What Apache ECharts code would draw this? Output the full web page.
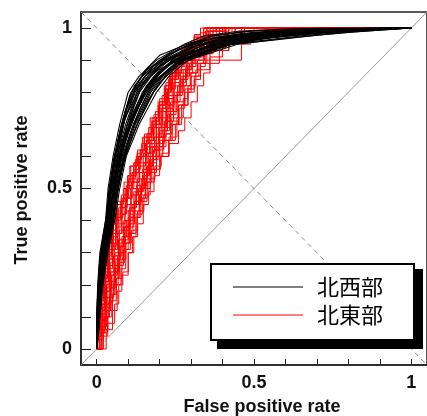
<!DOCTYPE html>
<html><head><meta charset="utf-8">
<script src="https://cdn.jsdelivr.net/npm/echarts@6.0.0/dist/echarts.min.js"></script>
<style>html,body{margin:0;padding:0;background:#fff;}#c{width:427px;height:416px;}</style>
</head><body><div id="c"></div>
<script>
const categories = ['北西部', '北東部'];
const seriesColors = ['#000000', '#ff0000'];
const tickValues = [0, 0.1, 0.2, 0.3, 0.4, 0.5, 0.6, 0.7, 0.8, 0.9, 1];
const labelValues = [0, 0.5, 1];
const xTitle = 'False positive rate';
const yTitle = 'True positive rate';
const diagonal = [[-0.05, -0.05], [1.05, 1.05]];
const antiDiagonal = [[-0.05, 1.05], [1.05, -0.05]];

const blackCurves = [
  [[0,0],[0,0.1],[0.003,0.2],[0.01,0.3],[0.028,0.4],[0.036,0.5],[0.052,0.6],[0.073,0.7],[0.1,0.8],[0.135,0.85],[0.19,0.9],[0.28,0.95],[0.34,0.975],[0.45,0.99],[0.6,0.997],[1,1]],
  [[0,0],[0.001,0.1],[0.005,0.2],[0.013,0.3],[0.031,0.4],[0.04,0.5],[0.056,0.6],[0.079,0.7],[0.109,0.8],[0.145,0.85],[0.2,0.9],[0.297,0.95],[0.36,0.975],[0.48,0.99],[0.65,0.996],[1,1]],
  [[0,0],[0.002,0.1],[0.006,0.2],[0.015,0.3],[0.035,0.4],[0.043,0.5],[0.06,0.6],[0.085,0.7],[0.118,0.8],[0.154,0.85],[0.21,0.9],[0.314,0.95],[0.38,0.972],[0.5,0.987],[0.68,0.995],[1,1]],
  [[0,0],[0.003,0.1],[0.008,0.2],[0.018,0.3],[0.038,0.4],[0.047,0.5],[0.065,0.6],[0.092,0.7],[0.127,0.8],[0.164,0.85],[0.22,0.9],[0.33,0.95],[0.4,0.97],[0.52,0.985],[0.7,0.994],[1,1]],
  [[0,0],[0.004,0.1],[0.01,0.2],[0.02,0.3],[0.041,0.4],[0.051,0.5],[0.069,0.6],[0.098,0.7],[0.136,0.8],[0.173,0.85],[0.23,0.9],[0.348,0.95],[0.43,0.968],[0.55,0.983],[0.72,0.993],[1,1]],
  [[0,0],[0.005,0.1],[0.012,0.2],[0.023,0.3],[0.044,0.4],[0.055,0.5],[0.073,0.6],[0.104,0.7],[0.145,0.8],[0.183,0.85],[0.24,0.9],[0.365,0.95],[0.45,0.966],[0.57,0.981],[0.74,0.992],[1,1]],
  [[0,0],[0.006,0.1],[0.013,0.2],[0.026,0.3],[0.046,0.4],[0.058,0.5],[0.077,0.6],[0.11,0.7],[0.154,0.8],[0.192,0.85],[0.25,0.9],[0.38,0.95],[0.47,0.965],[0.6,0.98],[0.76,0.991],[1,1]],
  [[0,0],[0.007,0.1],[0.015,0.2],[0.028,0.3],[0.049,0.4],[0.062,0.5],[0.081,0.6],[0.116,0.7],[0.163,0.8],[0.202,0.85],[0.26,0.9],[0.4,0.95],[0.5,0.964],[0.63,0.979],[0.78,0.99],[1,1]],
  [[0,0],[0.008,0.1],[0.016,0.2],[0.031,0.3],[0.052,0.4],[0.066,0.5],[0.086,0.6],[0.123,0.7],[0.172,0.8],[0.211,0.85],[0.27,0.9],[0.416,0.95],[0.53,0.962],[0.66,0.977],[0.8,0.989],[1,1]],
  [[0,0],[0.009,0.1],[0.018,0.2],[0.033,0.3],[0.054,0.4],[0.069,0.5],[0.09,0.6],[0.129,0.7],[0.181,0.8],[0.22,0.85],[0.28,0.9],[0.433,0.95],[0.56,0.962],[0.7,0.978],[0.82,0.988],[1,1]],
  [[0,0],[0.01,0.1],[0.02,0.2],[0.036,0.3],[0.057,0.4],[0.073,0.5],[0.094,0.6],[0.135,0.7],[0.19,0.8],[0.23,0.85],[0.29,0.9],[0.45,0.95],[0.6,0.968],[0.8,0.987],[1,1]],
  [[0,0],[0.002,0.12],[0.012,0.22],[0.02,0.33],[0.033,0.38],[0.05,0.52],[0.062,0.58],[0.09,0.72],[0.12,0.78],[0.15,0.83],[0.2,0.88],[0.3,0.94],[0.42,0.97],[0.58,0.985],[1,1]],
  [[0,0],[0.006,0.09],[0.008,0.18],[0.025,0.32],[0.045,0.43],[0.05,0.48],[0.08,0.63],[0.1,0.68],[0.14,0.77],[0.16,0.82],[0.25,0.91],[0.36,0.955],[0.5,0.975],[0.7,0.99],[1,1]],
  [[0,0],[0.004,0.15],[0.01,0.25],[0.03,0.36],[0.04,0.46],[0.06,0.55],[0.07,0.62],[0.1,0.69],[0.13,0.81],[0.17,0.86],[0.23,0.905],[0.32,0.945],[0.44,0.972],[0.62,0.99],[1,1]],
  [[0,0],[0.008,0.12],[0.014,0.24],[0.022,0.28],[0.04,0.42],[0.064,0.53],[0.085,0.65],[0.118,0.73],[0.15,0.79],[0.19,0.84],[0.26,0.895],[0.4,0.945],[0.55,0.97],[0.75,0.988],[1,1]],
  [[0,0],[0.003,0.14],[0.009,0.23],[0.022,0.35],[0.036,0.44],[0.054,0.56],[0.075,0.66],[0.095,0.75],[0.13,0.83],[0.155,0.87],[0.2,0.915],[0.3,0.955],[0.45,0.98],[0.65,0.993],[1,1]],
  [[0,0],[0.001,0.13],[0.007,0.24],[0.016,0.31],[0.033,0.41],[0.045,0.51],[0.062,0.61],[0.088,0.71],[0.122,0.8],[0.158,0.855],[0.215,0.9],[0.32,0.948],[0.42,0.972],[0.56,0.988],[0.8,0.998],[1,1]],
  [[0,0],[0.004,0.11],[0.011,0.21],[0.024,0.31],[0.043,0.4],[0.057,0.5],[0.075,0.6],[0.107,0.7],[0.15,0.8],[0.187,0.85],[0.245,0.9],[0.37,0.95],[0.48,0.97],[0.65,0.988],[0.85,0.998],[1,1]],
  [[0,0],[0.007,0.11],[0.017,0.22],[0.03,0.32],[0.05,0.41],[0.064,0.5],[0.084,0.6],[0.12,0.7],[0.168,0.8],[0.206,0.85],[0.265,0.9],[0.41,0.95],[0.52,0.968],[0.7,0.985],[0.9,0.998],[1,1]],
  [[0,0],[0.002,0.09],[0.005,0.19],[0.012,0.29],[0.029,0.39],[0.038,0.49],[0.054,0.59],[0.076,0.69],[0.105,0.79],[0.14,0.845],[0.195,0.895],[0.29,0.948],[0.37,0.975],[0.5,0.992],[0.7,0.999],[1,1]],
  [[0,0],[0.005,0.12],[0.013,0.23],[0.027,0.34],[0.047,0.42],[0.06,0.52],[0.08,0.62],[0.113,0.71],[0.158,0.81],[0.197,0.86],[0.255,0.905],[0.39,0.952],[0.49,0.97],[0.64,0.986],[0.82,0.996],[1,1]],
  [[0,0],[0.009,0.12],[0.019,0.21],[0.035,0.33],[0.055,0.42],[0.071,0.52],[0.092,0.61],[0.132,0.71],[0.185,0.81],[0.225,0.86],[0.285,0.905],[0.44,0.955],[0.58,0.972],[0.76,0.99],[1,1]],
  [[0,0],[0.003,0.08],[0.009,0.17],[0.02,0.27],[0.037,0.37],[0.049,0.47],[0.067,0.57],[0.095,0.67],[0.132,0.77],[0.17,0.83],[0.225,0.885],[0.34,0.94],[0.44,0.968],[0.6,0.987],[0.85,0.999],[1,1]],
  [[0,0],[0.006,0.08],[0.014,0.18],[0.029,0.28],[0.048,0.38],[0.06,0.46],[0.079,0.56],[0.112,0.66],[0.16,0.77],[0.2,0.83],[0.26,0.885],[0.39,0.94],[0.5,0.965],[0.68,0.984],[0.88,0.997],[1,1]],
  [[0,0],[0.002,0.15],[0.008,0.26],[0.02,0.35],[0.036,0.45],[0.05,0.55],[0.068,0.65],[0.09,0.74],[0.12,0.82],[0.16,0.87],[0.23,0.92],[0.33,0.96],[0.46,0.982],[0.66,0.995],[1,1]],
  [[0,0],[0.005,0.15],[0.014,0.26],[0.028,0.36],[0.046,0.45],[0.062,0.55],[0.085,0.65],[0.117,0.74],[0.158,0.82],[0.2,0.87],[0.28,0.92],[0.41,0.96],[0.55,0.978],[0.75,0.992],[1,1]],
  [[0,0],[0.001,0.06],[0.004,0.16],[0.01,0.26],[0.024,0.36],[0.04,0.45],[0.05,0.55],[0.07,0.65],[0.097,0.75],[0.128,0.82],[0.18,0.88],[0.26,0.935],[0.38,0.97],[0.55,0.99],[1,1]],
  [[0,0],[0.008,0.15],[0.017,0.26],[0.033,0.36],[0.052,0.45],[0.068,0.55],[0.092,0.65],[0.125,0.74],[0.17,0.82],[0.215,0.875],[0.3,0.925],[0.45,0.96],[0.6,0.978],[0.8,0.993],[1,1]],
  [[0,0],[0.003,0.05],[0.007,0.15],[0.017,0.25],[0.033,0.35],[0.045,0.45],[0.061,0.55],[0.082,0.65],[0.112,0.75],[0.145,0.82],[0.205,0.885],[0.3,0.94],[0.43,0.972],[0.62,0.99],[1,1]],
  [[0,0],[0.006,0.05],[0.012,0.15],[0.025,0.25],[0.042,0.35],[0.058,0.45],[0.076,0.55],[0.1,0.65],[0.138,0.75],[0.175,0.82],[0.24,0.88],[0.35,0.94],[0.5,0.97],[0.7,0.99],[1,1]]
];

const redCurves = [
  [[0,0],[0.005,0.07],[0.012,0.15],[0.022,0.22],[0.035,0.29],[0.047,0.37],[0.06,0.42],[0.078,0.47],[0.1,0.54],[0.126,0.6],[0.15,0.66],[0.175,0.71],[0.2,0.77],[0.218,0.82],[0.24,0.87],[0.26,0.91],[0.3,0.95],[0.33,0.985],[0.35,1],[1,1]],
  [[0,0],[0.008,0.06],[0.015,0.13],[0.026,0.2],[0.04,0.27],[0.053,0.33],[0.065,0.4],[0.085,0.45],[0.105,0.5],[0.128,0.57],[0.145,0.61],[0.17,0.66],[0.195,0.72],[0.215,0.77],[0.232,0.82],[0.25,0.86],[0.27,0.9],[0.31,0.94],[0.34,0.97],[0.37,1],[1,1]],
  [[0,0],[0.01,0.05],[0.02,0.11],[0.03,0.18],[0.045,0.24],[0.058,0.3],[0.072,0.37],[0.09,0.43],[0.11,0.48],[0.13,0.53],[0.15,0.58],[0.17,0.63],[0.19,0.67],[0.21,0.72],[0.23,0.78],[0.245,0.83],[0.265,0.87],[0.29,0.91],[0.33,0.95],[0.36,0.98],[0.39,1],[1,1]],
  [[0,0],[0.012,0.07],[0.025,0.12],[0.036,0.19],[0.05,0.25],[0.062,0.32],[0.078,0.38],[0.097,0.44],[0.118,0.5],[0.14,0.56],[0.158,0.6],[0.18,0.65],[0.2,0.7],[0.225,0.76],[0.24,0.81],[0.262,0.85],[0.28,0.9],[0.33,0.93],[0.36,0.96],[0.4,0.99],[0.42,1],[1,1]],
  [[0,0],[0.015,0.06],[0.028,0.1],[0.04,0.17],[0.055,0.22],[0.068,0.28],[0.083,0.34],[0.1,0.39],[0.12,0.46],[0.142,0.51],[0.16,0.55],[0.175,0.59],[0.195,0.64],[0.215,0.69],[0.235,0.74],[0.255,0.8],[0.275,0.85],[0.295,0.89],[0.34,0.93],[0.38,0.965],[0.41,1],[1,1]],
  [[0,0],[0.018,0.05],[0.032,0.11],[0.046,0.16],[0.058,0.21],[0.074,0.26],[0.088,0.33],[0.106,0.38],[0.125,0.44],[0.146,0.49],[0.165,0.54],[0.18,0.58],[0.2,0.62],[0.225,0.68],[0.245,0.73],[0.265,0.79],[0.283,0.84],[0.305,0.88],[0.35,0.92],[0.39,0.96],[0.42,0.99],[0.44,1],[1,1]],
  [[0,0],[0.02,0.06],[0.036,0.12],[0.05,0.17],[0.063,0.22],[0.08,0.28],[0.093,0.33],[0.11,0.37],[0.13,0.43],[0.15,0.48],[0.17,0.53],[0.185,0.57],[0.205,0.61],[0.23,0.66],[0.255,0.72],[0.275,0.78],[0.29,0.82],[0.315,0.87],[0.36,0.91],[0.4,0.95],[0.44,0.98],[0.46,1],[1,1]],
  [[0,0],[0.024,0.05],[0.04,0.1],[0.054,0.16],[0.068,0.2],[0.085,0.26],[0.1,0.31],[0.115,0.36],[0.135,0.41],[0.155,0.47],[0.175,0.52],[0.19,0.56],[0.21,0.6],[0.24,0.65],[0.262,0.7],[0.28,0.75],[0.3,0.8],[0.325,0.85],[0.35,0.89],[0.42,0.93],[0.45,0.97],[0.47,0.99],[0.48,1],[1,1]],
  [[0,0],[0.03,0.06],[0.05,0.12],[0.065,0.18],[0.08,0.23],[0.1,0.3],[0.118,0.35],[0.13,0.39],[0.148,0.45],[0.165,0.49],[0.182,0.54],[0.2,0.6],[0.23,0.64],[0.26,0.68],[0.28,0.72],[0.3,0.77],[0.32,0.82],[0.34,0.86],[0.36,0.9],[0.46,0.95],[0.49,0.97],[0.5,1],[1,1]],
  [[0,0],[0.035,0.04],[0.057,0.08],[0.07,0.14],[0.083,0.2],[0.1,0.24],[0.114,0.3],[0.125,0.35],[0.14,0.41],[0.16,0.46],[0.17,0.5],[0.19,0.55],[0.2,0.6],[0.235,0.65],[0.26,0.7],[0.29,0.76],[0.31,0.8],[0.33,0.84],[0.345,0.88],[0.37,0.92],[0.43,0.95],[0.47,0.98],[0.49,1],[1,1]],
  [[0,0],[0.006,0.09],[0.016,0.16],[0.03,0.23],[0.04,0.31],[0.06,0.36],[0.08,0.42],[0.092,0.47],[0.11,0.52],[0.135,0.58],[0.16,0.63],[0.185,0.69],[0.205,0.74],[0.22,0.79],[0.24,0.84],[0.26,0.88],[0.28,0.92],[0.32,0.96],[0.35,0.99],[0.38,1],[1,1]],
  [[0,0],[0.013,0.08],[0.024,0.14],[0.038,0.21],[0.05,0.26],[0.066,0.31],[0.08,0.36],[0.095,0.42],[0.113,0.47],[0.135,0.52],[0.155,0.57],[0.172,0.61],[0.19,0.65],[0.21,0.7],[0.23,0.75],[0.25,0.81],[0.27,0.86],[0.29,0.9],[0.32,0.94],[0.37,0.97],[0.4,1],[1,1]],
  [[0,0],[0.016,0.07],[0.03,0.14],[0.043,0.2],[0.06,0.25],[0.072,0.3],[0.09,0.35],[0.108,0.41],[0.12,0.45],[0.14,0.5],[0.16,0.56],[0.18,0.6],[0.2,0.63],[0.22,0.67],[0.24,0.71],[0.26,0.76],[0.28,0.81],[0.3,0.86],[0.32,0.9],[0.36,0.94],[0.41,0.97],[0.43,1],[1,1]],
  [[0,0],[0.01,0.08],[0.022,0.15],[0.033,0.22],[0.046,0.28],[0.06,0.34],[0.075,0.4],[0.095,0.46],[0.115,0.51],[0.135,0.55],[0.155,0.6],[0.175,0.64],[0.198,0.69],[0.22,0.75],[0.238,0.8],[0.255,0.84],[0.275,0.88],[0.3,0.92],[0.35,0.95],[0.37,0.98],[0.4,0.99],[0.43,1],[1,1]],
  [[0,0],[0.004,0.04],[0.009,0.1],[0.017,0.17],[0.028,0.25],[0.04,0.32],[0.052,0.39],[0.07,0.44],[0.092,0.5],[0.112,0.55],[0.133,0.6],[0.158,0.65],[0.18,0.7],[0.205,0.75],[0.222,0.8],[0.235,0.85],[0.255,0.89],[0.285,0.93],[0.32,0.97],[0.34,1],[1,1]],
  [[0,0],[0.011,0.04],[0.019,0.09],[0.028,0.14],[0.039,0.21],[0.052,0.28],[0.067,0.35],[0.083,0.41],[0.102,0.47],[0.123,0.53],[0.143,0.59],[0.165,0.64],[0.187,0.69],[0.208,0.74],[0.228,0.79],[0.25,0.84],[0.268,0.89],[0.3,0.93],[0.345,0.96],[0.38,0.99],[0.39,1],[1,1]],
  [[0,0],[0.014,0.05],[0.026,0.1],[0.039,0.15],[0.052,0.23],[0.066,0.29],[0.08,0.35],[0.095,0.4],[0.115,0.45],[0.133,0.5],[0.152,0.55],[0.17,0.6],[0.19,0.66],[0.215,0.71],[0.235,0.77],[0.257,0.82],[0.275,0.87],[0.3,0.91],[0.34,0.95],[0.375,0.98],[0.4,1],[1,1]],
  [[0,0],[0.017,0.04],[0.03,0.09],[0.045,0.14],[0.058,0.19],[0.072,0.24],[0.086,0.3],[0.1,0.35],[0.12,0.41],[0.14,0.46],[0.158,0.51],[0.178,0.57],[0.2,0.63],[0.222,0.69],[0.245,0.75],[0.268,0.8],[0.288,0.85],[0.31,0.9],[0.355,0.94],[0.39,0.97],[0.41,1],[1,1]],
  [[0,0],[0.021,0.05],[0.034,0.1],[0.048,0.15],[0.062,0.2],[0.077,0.25],[0.092,0.31],[0.107,0.36],[0.125,0.42],[0.145,0.47],[0.163,0.52],[0.183,0.56],[0.203,0.6],[0.228,0.65],[0.25,0.7],[0.27,0.76],[0.29,0.81],[0.31,0.85],[0.33,0.89],[0.39,0.93],[0.42,0.96],[0.44,1],[1,1]],
  [[0,0],[0.007,0.05],[0.014,0.11],[0.024,0.17],[0.036,0.23],[0.05,0.3],[0.064,0.36],[0.08,0.41],[0.098,0.46],[0.118,0.52],[0.14,0.58],[0.16,0.62],[0.182,0.67],[0.2,0.73],[0.22,0.78],[0.24,0.83],[0.258,0.87],[0.28,0.905],[0.31,0.94],[0.35,0.975],[0.37,1],[1,1]],
  [[0,0],[0.009,0.03],[0.02,0.07],[0.032,0.13],[0.044,0.19],[0.058,0.24],[0.07,0.32],[0.085,0.38],[0.104,0.44],[0.126,0.49],[0.148,0.54],[0.168,0.59],[0.188,0.63],[0.21,0.68],[0.232,0.73],[0.252,0.79],[0.272,0.84],[0.29,0.88],[0.315,0.92],[0.36,0.955],[0.395,0.98],[0.42,1],[1,1]],
  [[0,0],[0.012,0.1],[0.022,0.17],[0.035,0.24],[0.048,0.3],[0.063,0.36],[0.078,0.43],[0.098,0.48],[0.118,0.54],[0.138,0.58],[0.16,0.62],[0.178,0.67],[0.196,0.71],[0.218,0.76],[0.236,0.81],[0.253,0.85],[0.272,0.9],[0.31,0.935],[0.355,0.965],[0.38,0.99],[0.4,1],[1,1]],
  [[0,0],[0.005,0.03],[0.011,0.08],[0.02,0.14],[0.031,0.2],[0.043,0.27],[0.056,0.33],[0.071,0.39],[0.09,0.45],[0.108,0.5],[0.128,0.55],[0.148,0.61],[0.168,0.66],[0.19,0.72],[0.21,0.77],[0.228,0.81],[0.246,0.86],[0.268,0.9],[0.3,0.94],[0.335,0.97],[0.36,1],[1,1]],
  [[0,0],[0.013,0.05],[0.027,0.12],[0.042,0.18],[0.056,0.24],[0.07,0.29],[0.085,0.34],[0.1,0.38],[0.118,0.43],[0.137,0.49],[0.157,0.55],[0.176,0.6],[0.196,0.64],[0.218,0.69],[0.24,0.74],[0.262,0.79],[0.282,0.83],[0.302,0.87],[0.33,0.91],[0.37,0.95],[0.41,0.98],[0.45,1],[1,1]],
  [[0,0],[0.008,0.04],[0.016,0.09],[0.027,0.16],[0.04,0.23],[0.054,0.29],[0.068,0.34],[0.086,0.4],[0.106,0.45],[0.126,0.51],[0.146,0.56],[0.164,0.61],[0.184,0.66],[0.205,0.7],[0.226,0.76],[0.246,0.82],[0.265,0.86],[0.285,0.89],[0.31,0.93],[0.35,0.96],[0.38,0.99],[0.41,1],[1,1]],
  [[0,0],[0.019,0.06],[0.033,0.13],[0.047,0.19],[0.061,0.23],[0.076,0.28],[0.091,0.32],[0.104,0.37],[0.122,0.42],[0.143,0.48],[0.161,0.53],[0.18,0.57],[0.199,0.62],[0.22,0.66],[0.244,0.71],[0.265,0.77],[0.285,0.82],[0.305,0.86],[0.325,0.9],[0.37,0.935],[0.405,0.97],[0.43,1],[1,1]],
  [[0,0],[0.003,0.05],[0.008,0.12],[0.015,0.19],[0.026,0.26],[0.038,0.33],[0.05,0.4],[0.066,0.46],[0.087,0.52],[0.108,0.57],[0.13,0.62],[0.152,0.67],[0.176,0.72],[0.196,0.76],[0.215,0.81],[0.232,0.86],[0.25,0.9],[0.28,0.94],[0.31,0.98],[0.33,1],[1,1]],
  [[0,0],[0.026,0.07],[0.044,0.12],[0.058,0.17],[0.073,0.22],[0.089,0.27],[0.104,0.33],[0.118,0.38],[0.136,0.43],[0.154,0.48],[0.172,0.53],[0.19,0.58],[0.213,0.62],[0.236,0.67],[0.258,0.72],[0.278,0.77],[0.297,0.82],[0.32,0.86],[0.342,0.9],[0.4,0.94],[0.44,0.975],[0.47,1],[1,1]]
];

const chart = echarts.init(document.getElementById('c'), null, {renderer: 'canvas'});
const series = [];
series.push({type: 'line', data: diagonal, symbol: 'none', silent: true, z: 1,
  lineStyle: {color: '#9a9a9a', width: 1}});
series.push({type: 'line', data: antiDiagonal, symbol: 'none', silent: true, z: 1,
  lineStyle: {color: '#8a8a8a', width: 1, type: [5, 4]}});
redCurves.forEach((d, i) => series.push({
  name: categories[1], type: 'line', data: d, symbol: 'none', showSymbol: false, silent: true,
  step: i % 2 ? 'start' : 'end', color: seriesColors[1], z: 2,
  lineStyle: {color: seriesColors[1], width: 1}
}));
blackCurves.forEach((d) => series.push({
  name: categories[0], type: 'line', data: d, symbol: 'none', showSymbol: false, silent: true,
  color: seriesColors[0], z: 3,
  lineStyle: {color: seriesColors[0], width: 1.1}
}));

const axisCommon = {
  type: 'value', min: -0.05, max: 1.05,
  splitLine: {show: false},
  axisLine: {show: true, onZero: false, lineStyle: {color: '#222', width: 1.5}},
  axisLabel: {customValues: labelValues, color: '#111', fontFamily: 'Liberation Sans, Arial, sans-serif',
    fontWeight: 'bold', fontSize: 18, formatter: v => String(v)}
};

chart.setOption({
  animation: false,
  backgroundColor: '#fff',
  grid: {left: 81, top: 12, width: 352, height: 353, show: true, borderColor: '#222', borderWidth: 1.5, backgroundColor: 'transparent'},
  xAxis: Object.assign({}, axisCommon, {
    axisTick: {show: true, customValues: tickValues, inside: true, length: 6, lineStyle: {color: '#222', width: 1}},
    axisLabel: Object.assign({}, axisCommon.axisLabel, {margin: 9})
  }),
  yAxis: Object.assign({}, axisCommon, {
    axisTick: {show: true, customValues: tickValues, inside: true, length: 10, lineStyle: {color: '#222', width: 1}},
    axisLabel: Object.assign({}, axisCommon.axisLabel, {margin: 9})
  }),
  legend: {
    data: categories, orient: 'vertical', left: 233, top: 276, padding: 0,
    icon: 'rect', itemWidth: 70, itemHeight: 1.2, itemGap: 6, selectedMode: false, z: 100,
    textStyle: {fontFamily: 'Noto Sans CJK JP', fontSize: 22, lineHeight: 22, color: '#000', padding: [0, 0, 0, 9]}
  },
  graphic: [
    {type: 'rect', z: 50, silent: true, shape: {x: 217, y: 269, width: 206, height: 80}, style: {fill: '#000'}},
    {type: 'rect', z: 51, silent: true, shape: {x: 211, y: 264, width: 203, height: 76}, style: {fill: '#fff', stroke: '#000', lineWidth: 2}},
    {type: 'text', z: 60, silent: true, x: 22, y: 190, rotation: Math.PI / 2,
      style: {text: yTitle, align: 'center', verticalAlign: 'middle', fill: '#111', font: 'bold 18px "Liberation Sans", Arial, sans-serif'}},
    {type: 'text', z: 60, silent: true, x: 262, y: 407,
      style: {text: xTitle, align: 'center', verticalAlign: 'middle', fill: '#111', font: 'bold 18px "Liberation Sans", Arial, sans-serif'}}
  ],
  series: series
});
</script></body></html>
